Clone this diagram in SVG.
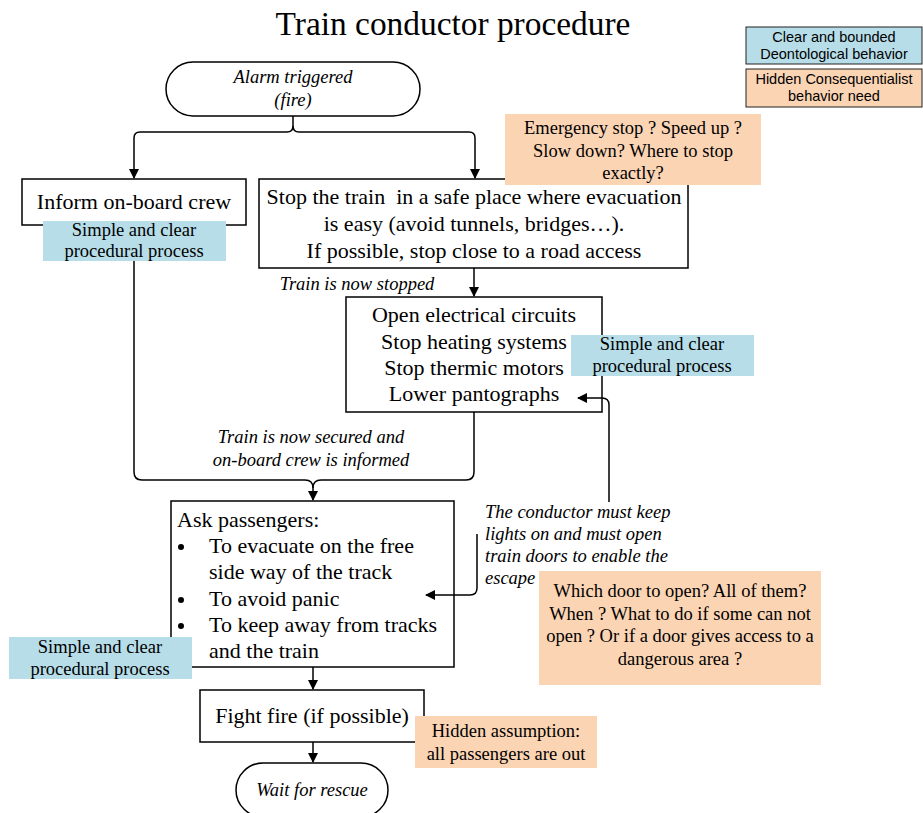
<svg xmlns="http://www.w3.org/2000/svg" width="923" height="813" viewBox="0 0 923 813">
<defs>
<marker id="arr" markerWidth="10" markerHeight="10" refX="9" refY="5" orient="auto" markerUnits="userSpaceOnUse">
<path d="M0,0 L10,5 L0,10 Z" fill="#000"/>
</marker>
<style>
.box{fill:#fff;stroke:#000;stroke-width:1.5}
.blue{fill:#b7dde8}
.orange{fill:#fbd4b4}
.leg{stroke:#222;stroke-width:1}
.t{font-family:"Liberation Serif",serif;font-size:22px;fill:#000}
.s{font-family:"Liberation Serif",serif;font-size:18.5px;fill:#000}
.i{font-family:"Liberation Serif",serif;font-size:18.5px;font-style:italic;fill:#000}
.l{font-family:"Liberation Sans",sans-serif;font-size:14.5px;fill:#000}
.c{text-anchor:middle}
.ln{fill:none;stroke:#000;stroke-width:1.5}
</style>
</defs>
<rect width="923" height="813" fill="#fff"/>
<text x="453" y="35" class="c" style="font-family:'Liberation Serif',serif;font-size:33.4px">Train conductor procedure</text>

<g id="legend-blue"><rect x="746" y="27" width="176" height="37" class="blue leg"/>
<text x="834" y="42" class="l c">Clear and bounded</text><text x="834" y="59" class="l c">Deontological behavior</text></g>
<g id="legend-orange"><rect x="746" y="69" width="176" height="38" class="orange leg"/>
<text x="834" y="84" class="l c">Hidden Consequentialist</text><text x="834" y="101" class="l c">behavior need</text></g>

<g id="alarm"><rect x="166" y="62" width="254" height="54" rx="27" class="box"/>
<text x="293" y="83" class="i c">Alarm triggered</text><text x="293" y="106" class="i c">(fire)</text></g>

<g id="inform"><rect x="22" y="179" width="224" height="46" class="box"/>
<text x="134" y="209" class="t c">Inform on-board crew</text></g>
<g id="note-inform"><rect x="43" y="221" width="183" height="40" class="blue"/>
<text x="134" y="236" class="s c">Simple and clear</text><text x="134" y="257" class="s c">procedural process</text></g>

<g id="stop"><rect x="259" y="179" width="429" height="89" class="box"/>
<text x="474" y="204" class="t c" xml:space="preserve">Stop the train  in a safe place where evacuation</text>
<text x="474" y="231" class="t c">is easy (avoid tunnels, bridges…).</text>
<text x="474" y="258" class="t c">If possible, stop close to a road access</text></g>
<g id="note-stop"><rect x="505" y="114" width="256" height="71" class="orange"/>
<text x="633" y="134" class="s c">Emergency stop ? Speed up ?</text>
<text x="633" y="157" class="s c">Slow down? Where to stop</text>
<text x="633" y="179" class="s c">exactly?</text></g>
<text x="357" y="290" class="i c">Train is now stopped</text>

<g id="open"><rect x="346" y="297" width="256" height="115" class="box"/>
<text x="474" y="322" class="t c">Open electrical circuits</text>
<text x="474" y="349" class="t c">Stop heating systems</text>
<text x="474" y="375" class="t c">Stop thermic motors</text>
<text x="474" y="401" class="t c">Lower pantographs</text></g>
<g id="note-open"><rect x="571" y="335" width="183" height="41" class="blue"/>
<text x="662" y="350" class="s c">Simple and clear</text><text x="662" y="372" class="s c">procedural process</text></g>

<text x="311" y="443" class="i c">Train is now secured and</text>
<text x="311" y="466" class="i c">on-board crew is informed</text>

<g id="ask"><rect x="171" y="501" width="283" height="166" class="box"/>
<text x="177" y="527" class="t">Ask passengers:</text>
<circle cx="181" cy="547" r="3"/><text x="209" y="553" class="t">To evacuate on the free</text>
<text x="209" y="579" class="t">side way of the track</text>
<circle cx="181" cy="600" r="3"/><text x="209" y="606" class="t">To avoid panic</text>
<circle cx="181" cy="626" r="3"/><text x="209" y="632" class="t">To keep away from tracks</text>
<text x="209" y="658" class="t">and the train</text></g>
<g id="note-ask"><rect x="9" y="637" width="183" height="42" class="blue"/>
<text x="100" y="653" class="s c">Simple and clear</text><text x="100" y="675" class="s c">procedural process</text></g>

<g id="label-doors">
<text x="485" y="518" class="i">The conductor must keep</text>
<text x="485" y="540" class="i">lights on and must open</text>
<text x="485" y="562" class="i">train doors to enable the</text>
<text x="485" y="584" class="i">escape</text></g>
<g id="note-doors"><rect x="539" y="571" width="282" height="114" class="orange"/>
<text x="680" y="597" class="s c">Which door to open? All of them?</text>
<text x="680" y="620" class="s c">When ? What to do if some can not</text>
<text x="680" y="642" class="s c">open ? Or if a door gives access to a</text>
<text x="680" y="665" class="s c">dangerous area ?</text></g>

<g id="fight"><rect x="200" y="690" width="224" height="52" class="box"/>
<text x="312" y="723" class="t c">Fight fire (if possible)</text></g>
<g id="note-fight"><rect x="415" y="716" width="182" height="52" class="orange"/>
<text x="506" y="737" class="s c">Hidden assumption:</text>
<text x="506" y="760" class="s c">all passengers are out</text></g>

<g id="wait"><rect x="236" y="763" width="152" height="54" rx="27" class="box"/>
<text x="312" y="796" class="i c">Wait for rescue</text></g>

<g id="connectors" class="ln">
<path d="M293,116 V126 Q293,132 287,132 H140 Q134,132 134,138 V178" marker-end="url(#arr)"/>
<path d="M293,126 Q293,132 299,132 H469 Q475,132 475,138 V178" marker-end="url(#arr)"/>
<path d="M474,268 V296" marker-end="url(#arr)"/>
<path d="M134,261 V472 Q134,480 142,480 H305 Q313,480 313,488 V500" marker-end="url(#arr)"/>
<path d="M474,412 V472 Q474,480 466,480 H321 Q313,480 313,488"/>
<path d="M609,502 V405 Q609,398 602,398 H578" marker-end="url(#arr)"/>
<path d="M477,534 V588 Q477,595 470,595 H426" marker-end="url(#arr)"/>
<path d="M313,667 V689" marker-end="url(#arr)"/>
<path d="M313,742 V762" marker-end="url(#arr)"/>
</g>
</svg>
